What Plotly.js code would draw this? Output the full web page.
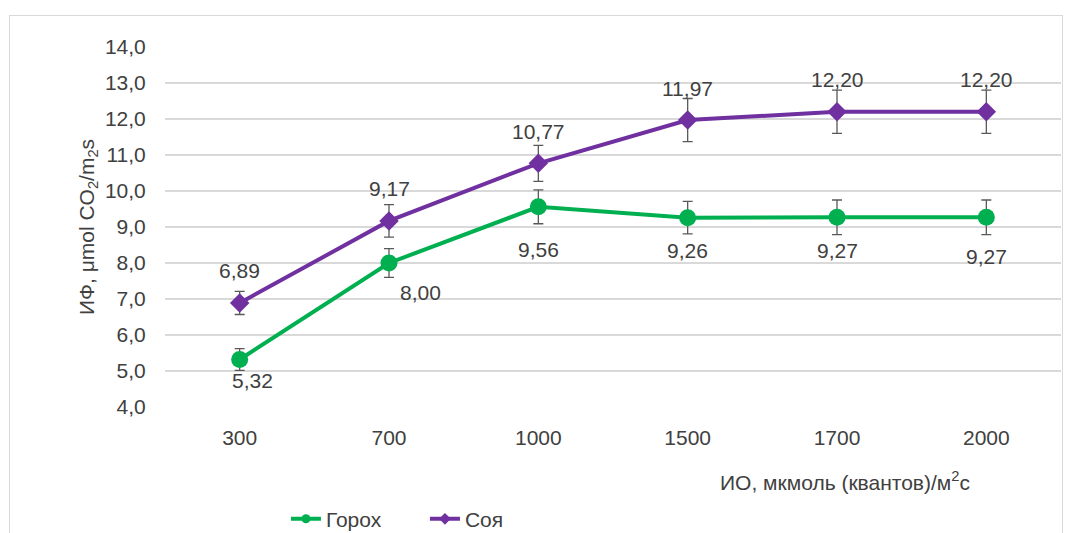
<!DOCTYPE html>
<html>
<head>
<meta charset="utf-8">
<script src="https://cdn.plot.ly/plotly-3.0.1.min.js"></script>
<style>
html,body{margin:0;padding:0;background:#fff;}
#frame{position:absolute;left:9px;top:15px;width:1054px;height:530px;border:1px solid #d9d9d9;box-sizing:border-box;}
#chart{position:absolute;left:0;top:0;width:1065px;height:533px;}
</style>
</head>
<body>
<div id="frame"></div>
<div id="chart"></div>
<script>
const categories = ['300', '700', '1000', '1500', '1700', '2000'];
const gorohValues = [5.32, 8.00, 9.56, 9.26, 9.27, 9.27];
const gorohErrors = [0.30, 0.40, 0.47, 0.45, 0.48, 0.48];
const soyaValues = [6.89, 9.17, 10.77, 11.97, 12.20, 12.20];
const soyaErrors = [0.32, 0.45, 0.50, 0.60, 0.60, 0.60];
const seriesNames = ['Горох', 'Соя'];

const green = '#00b050';
const purple = '#7030a0';
const textColor = '#404040';
const fontFam = 'Liberation Sans, Arial, sans-serif';
const fs = 21;

const fmt = v => v.toFixed(2).replace('.', ',');
const xIdx = categories.map((c, i) => i);

const errStyle = {type: 'data', visible: true, color: '#595959', thickness: 1.3, width: 5};

const traces = [
  {
    x: xIdx, y: gorohValues, name: seriesNames[0], type: 'scatter', mode: 'lines+markers', showlegend: false,
    line: {color: green, width: 4},
    marker: {symbol: 'circle', size: 17, color: green},
    error_y: Object.assign({array: gorohErrors}, errStyle)
  },
  {
    x: xIdx, y: soyaValues, name: seriesNames[1], type: 'scatter', mode: 'lines+markers', showlegend: false,
    line: {color: purple, width: 4},
    marker: {symbol: 'diamond', size: 15, color: purple},
    error_y: Object.assign({array: soyaErrors}, errStyle)
  },
  {
    x: [null], y: [null], name: seriesNames[0], type: 'scatter', mode: 'lines+markers',
    line: {color: green, width: 4}, marker: {symbol: 'circle', size: 9, color: green}
  },
  {
    x: [null], y: [null], name: seriesNames[1], type: 'scatter', mode: 'lines+markers',
    line: {color: purple, width: 4}, marker: {symbol: 'diamond', size: 9, color: purple}
  }
];

const gorohShift = [[13, -21], [31, -29], [0, -43], [0, -33], [0, -33], [0, -39]];
const annotations = [];
xIdx.forEach(i => {
  annotations.push({x: i, y: gorohValues[i], xref: 'x', yref: 'y', text: fmt(gorohValues[i]), showarrow: false,
    xshift: gorohShift[i][0], yshift: gorohShift[i][1], font: {size: fs, color: textColor, family: fontFam}});
  annotations.push({x: i, y: soyaValues[i], xref: 'x', yref: 'y', text: fmt(soyaValues[i]), showarrow: false,
    xshift: 0, yshift: 32, font: {size: fs, color: textColor, family: fontFam}});
});
annotations.push({xref: 'paper', yref: 'paper', x: 0.759, y: -0.2056, xanchor: 'center', yanchor: 'middle',
  text: 'ИО, мкмоль (квантов)/м<sup>2</sup>с', showarrow: false, font: {size: fs, color: textColor, family: fontFam}});

const layout = {
  width: 1065, height: 533,
  margin: {l: 165, r: 4, t: 47, b: 126},
  paper_bgcolor: 'rgba(0,0,0,0)', plot_bgcolor: 'rgba(0,0,0,0)',
  font: {family: fontFam, size: fs, color: textColor},
  showlegend: true,
  legend: {orientation: 'h', xref: 'container', yref: 'container', x: 0.2685, y: 0.026,
    xanchor: 'left', yanchor: 'middle', font: {size: fs, color: textColor}, tracegroupgap: 0,
    entrywidth: 94, entrywidthmode: 'pixels'},
  xaxis: {range: [-0.5, 5.5], tickvals: xIdx, ticktext: categories, showgrid: false, zeroline: false, showline: false,
    tickfont: {size: fs, color: textColor}, ticks: 'outside', ticklen: 12, tickcolor: 'rgba(0,0,0,0)'},
  yaxis: {range: [4, 14], dtick: 1, tick0: 4, showgrid: true, gridcolor: '#d9d9d9', gridwidth: 1.3,
    zeroline: false, showline: false, tickformat: '.1f',
    tickfont: {size: fs, color: textColor}, ticks: 'outside', ticklen: 14, tickcolor: 'rgba(0,0,0,0)',
    title: {text: 'ИФ, μmol CO<sub>2</sub>/m<sub>2</sub>s', font: {size: fs, color: textColor}, standoff: 4}},
  separators: ', ',
  annotations: annotations
};

Plotly.newPlot('chart', traces, layout, {displayModeBar: false, staticPlot: true});
</script>
</body>
</html>
